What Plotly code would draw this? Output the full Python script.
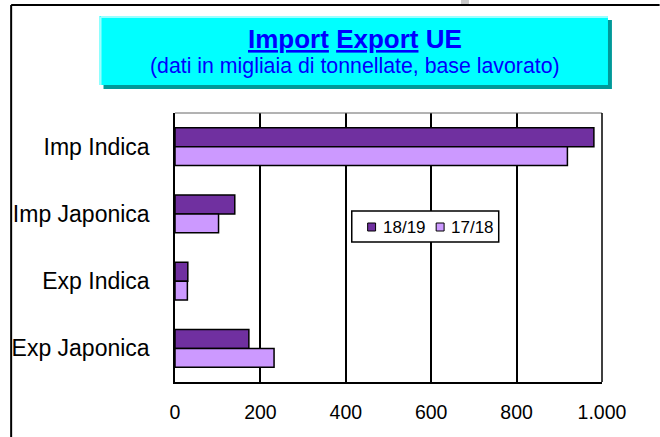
import plotly.graph_objects as go

categories = ["Imp Indica", "Imp Japonica", "Exp Indica", "Exp Japonica"]
series_names = ["18/19", "17/18"]
values_1819 = [981, 140, 30, 173]
values_1718 = [919, 102, 29, 232]
tick_vals = [0, 200, 400, 600, 800, 1000]
tick_text = ["0", "200", "400", "600", "800", "1.000"]
colors = ["#7030A0", "#CC99FF"]

W, H = 660, 437
L, R, T, B = 172, 602, 113, 382


def px(x):
    return (x - L) / (R - L)


def py(y):
    return (B - y) / (B - T)


FONT = "Liberation Sans, Arial, sans-serif"

fig = go.Figure()
for name, vals, col in zip(series_names, [values_1819, values_1718], colors):
    fig.add_trace(go.Bar(
        y=categories, x=vals, name=name, orientation="h", showlegend=False,
        marker=dict(color=col, line=dict(color="black", width=1.5)),
    ))

shapes = [
    # outer frame (left & top)
    dict(type="line", xref="paper", yref="paper", x0=px(7), x1=px(660), y0=py(5), y1=py(5),
         line=dict(color="black", width=2)),
    dict(type="line", xref="paper", yref="paper", x0=px(7), x1=px(7), y0=py(5), y1=py(437),
         line=dict(color="black", width=2)),
    dict(type="rect", xref="paper", yref="paper", x0=px(460), x1=px(468), y0=py(0), y1=py(4),
         fillcolor="#C8C8C8", line=dict(width=0)),
    # title box shadow
    dict(type="rect", xref="paper", yref="paper", x0=px(100), x1=px(612), y0=py(20), y1=py(89),
         fillcolor="#009999", line=dict(width=0), layer="above"),
    # title box
    dict(type="rect", xref="paper", yref="paper", x0=px(96), x1=px(608), y0=py(16), y1=py(85),
         fillcolor="#00FFFF", line=dict(width=0), layer="above"),
    dict(type="line", xref="paper", yref="paper", x0=px(97), x1=px(608), y0=py(17), y1=py(17),
         line=dict(color="#99FFFF", width=2), layer="above"),
    dict(type="line", xref="paper", yref="paper", x0=px(97), x1=px(97), y0=py(17), y1=py(85),
         line=dict(color="#99FFFF", width=2), layer="above"),
    # plot top & right borders
    dict(type="line", xref="paper", yref="paper", x0=0, x1=1, y0=1, y1=1,
         line=dict(color="#666666", width=1)),
    dict(type="line", xref="paper", yref="paper", x0=1, x1=1, y0=0, y1=1,
         line=dict(color="black", width=1.5)),
    # legend box
    dict(type="rect", xref="paper", yref="paper", x0=px(350), x1=px(498), y0=py(211), y1=py(242),
         fillcolor="white", line=dict(color="black", width=1.5), layer="above"),
]

annotations = [
    dict(xref="paper", yref="paper", x=px(353), y=py(39), xanchor="center", yanchor="middle",
         text="<b><span style='text-decoration:underline'>Import</span> "
              "<span style='text-decoration:underline'>Export</span> UE</b>",
         showarrow=False, font=dict(family=FONT, size=26, color="#0000FF")),
    dict(xref="paper", yref="paper", x=px(353), y=py(66), xanchor="center", yanchor="middle",
         text="(dati in migliaia di tonnellate, base lavorato)",
         showarrow=False, font=dict(family=FONT, size=21.3, color="#0000FF")),
]

# legend entries (symbol + label)
legend_x = [366, 435]
for name, col, lx in zip(series_names, colors, legend_x):
    shapes.append(dict(type="rect", xref="paper", yref="paper", x0=px(lx), x1=px(lx + 8),
                       y0=py(223), y1=py(231), fillcolor=col,
                       line=dict(color="black", width=1), layer="above"))
    annotations.append(dict(xref="paper", yref="paper", x=px(lx + 13), y=py(227),
                            xanchor="left", yanchor="middle", text=name, showarrow=False,
                            font=dict(family=FONT, size=17, color="black")))

fig.update_layout(
    width=W, height=H,
    margin=dict(l=L, r=W - R, t=T, b=H - B),
    paper_bgcolor="white", plot_bgcolor="white",
    barmode="group", bargap=0.435, bargroupgap=0,
    font=dict(family=FONT, color="black"),
    xaxis=dict(range=[0, 1000], tickvals=tick_vals, ticktext=tick_text,
               showgrid=True, gridcolor="black", gridwidth=1.5, zeroline=False,
               showline=True, linecolor="black", linewidth=1.5, ticks="",
               ticklabelstandoff=12, tickfont=dict(family=FONT, size=19.5)),
    yaxis=dict(categoryorder="array", categoryarray=categories, autorange="reversed",
               showgrid=False, zeroline=False, showline=True, linecolor="black", linewidth=1.5,
               ticks="", ticklabelstandoff=19, tickfont=dict(family=FONT, size=23)),
    shapes=shapes, annotations=annotations,
)

fig.write_html("out.html", config={"displayModeBar": False},
               post_script="document.body.style.margin='0';document.body.style.overflow='hidden';")
